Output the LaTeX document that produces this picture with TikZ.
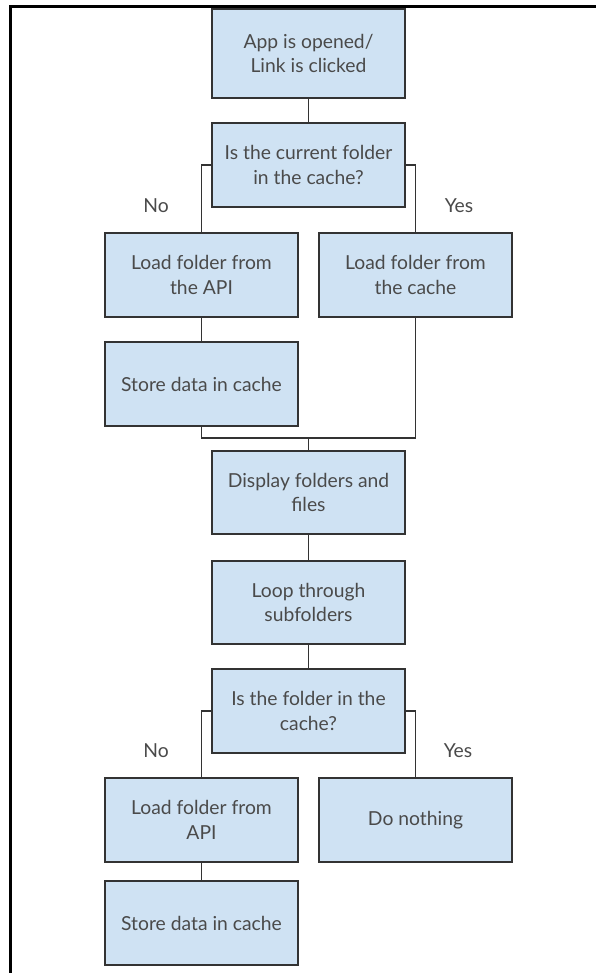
\documentclass[tikz,border=0pt]{standalone}
\usepackage{fontspec}
\setmainfont{Lato}
\definecolor{boxfill}{HTML}{CFE2F3}
\definecolor{boxline}{HTML}{333333}
\definecolor{txt}{HTML}{4A4A4A}
\begin{document}
\begin{tikzpicture}[x=1pt,y=-1pt,
  box/.style={draw=boxline, fill=boxfill, line width=1.1pt, rectangle,
    minimum width=193pt, minimum height=84pt, inner sep=0pt,
    align=center, text=txt, font=\fontsize{19.3}{24.5}\selectfont},
  lbl/.style={text=txt, font=\fontsize{19.3}{24.5}\selectfont, inner sep=0pt},
  conn/.style={draw=boxline, line width=1.1pt}]
\useasboundingbox (0,0) rectangle (596,973);
\fill[white] (0,0) rectangle (596,973);
\draw[line width=3pt, black] (10,973) -- (10,7) -- (596,7);

\node[box, minimum height=89pt] (b1) at (308.5,53.5) {App is opened/\\Link is clicked};
\node[box] (b2) at (308.5,165) {Is the current folder\\in the cache?};
\node[box] (b3) at (201.5,275) {Load folder from\\the API};
\node[box] (b4) at (415.5,275) {Load folder from\\the cache};
\node[box] (b5) at (201.5,384) {Store data in cache};
\node[box, minimum height=83pt] (b6) at (308.5,492.5) {Display folders and\\files};
\node[box, minimum height=83pt] (b7) at (308.5,602.5) {Loop through\\subfolders};
\node[box] (b8) at (308.5,711) {Is the folder in the\\cache?};
\node[box] (b9) at (201.5,820) {Load folder from\\API};
\node[box] (b10) at (415.5,820) {Do nothing};
\node[box] (b11) at (201.5,923) {Store data in cache};

\coordinate (m) at (308.5,438);

\node[lbl] (no1) at (156,206) {No};
\node[lbl] (yes1) at (459,206) {Yes};
\node[lbl] (no2) at (156,751) {No};
\node[lbl] (yes2) at (458,751) {Yes};

\draw[conn] (b1.south) -- (b2.north);
\draw[conn] (b2.west) -| (b3.north);
\draw[conn] (b2.east) -| (b4.north);
\draw[conn] (b3.south) -- (b5.north);
\draw[conn] (b5.south) |- (m) -| (b4.south);
\draw[conn] (m) -- (b6.north);
\draw[conn] (b6.south) -- (b7.north);
\draw[conn] (b7.south) -- (b8.north);
\draw[conn] (b8.west) -| (b9.north);
\draw[conn] (b8.east) -| (b10.north);
\draw[conn] (b9.south) -- (b11.north);
\end{tikzpicture}
\end{document}
